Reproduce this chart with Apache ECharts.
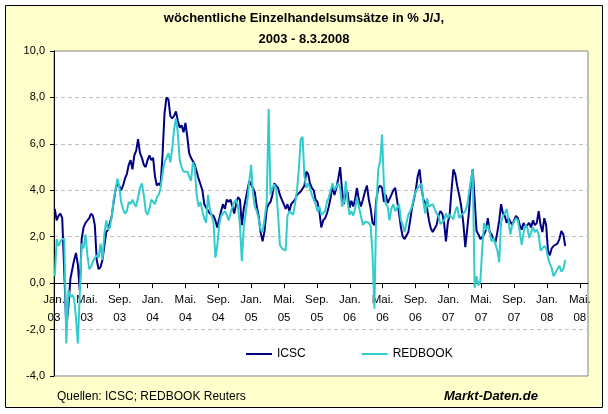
<!DOCTYPE html>
<html>
<head>
<meta charset="utf-8">
<script src="https://cdn.jsdelivr.net/npm/echarts@6/dist/echarts.min.js"></script>
<style>
  html, body { margin: 0; padding: 0; background: #fff; }
  #chart { width: 608px; height: 414px; }
</style>
</head>
<body>
<div id="chart"></div>
<script>
// weekly values, first week ends 4.1.2003, last 8.3.2008
var firstWeek = [2003, 0, 4];
var icsc = [
  3.2, 2.7, 2.9, 3.0, 2.8, 0.5, -1.9, -1.0, 0.2, 0.6,
  1.0, 1.3, 0.8, -0.3, 1.9, 2.4, 2.6, 2.7, 2.8, 3.0,
  2.9, 2.5, 1.0, 0.6, 0.7, 1.0, 1.6, 2.2, 2.3, 2.3,
  2.9, 3.5, 4.0, 4.3, 4.2, 4.0, 4.2, 4.5, 4.7, 5.1,
  5.3, 4.9, 5.5, 5.7, 6.2, 5.6, 5.4, 5.1, 5.0, 5.3,
  5.5, 5.3, 5.4, 4.6, 4.2, 4.3, 4.2, 5.5, 7.3, 8.0,
  7.9, 7.2, 7.1, 7.2, 7.4, 7.0, 6.7, 6.8, 6.5, 6.9,
  6.3, 5.6, 5.4, 5.4, 5.1, 4.8, 4.5, 4.25, 4.0, 3.4,
  3.25, 3.2, 3.0, 2.95, 2.9, 2.7, 2.4, 2.4, 3.1, 3.4,
  3.2, 3.6, 3.5, 3.6, 3.3, 3.0, 3.4, 3.7, 3.6, 2.5,
  3.2, 3.2, 4.0, 4.4, 4.4, 4.1, 3.9, 3.3, 2.9, 2.2,
  1.8, 2.3, 3.2, 3.4, 3.5, 3.8, 4.3, 4.2, 4.1, 3.8,
  3.6, 3.4, 3.2, 3.4, 3.1, 3.4, 3.45, 3.6, 3.8, 3.8,
  3.95, 4.0, 4.2, 4.8, 4.7, 4.3, 4.1, 4.0, 3.6, 3.5,
  3.1, 2.4, 2.7, 2.8, 3.0, 3.3, 3.7, 4.2, 3.8, 4.1,
  4.5, 5.0, 4.0, 3.4, 4.0, 3.9, 3.25, 3.55, 3.3, 3.6,
  4.1, 3.6, 3.3, 3.6, 3.95, 4.2, 3.6, 3.2, 2.6, 2.5,
  3.6, 4.1, 4.2, 4.1, 3.5, 3.8, 3.45, 3.4, 3.8, 4.0,
  4.1, 4.1, 3.0, 2.4, 2.0, 1.9, 1.85, 2.2, 2.7, 3.25,
  3.6, 4.0, 4.6, 4.9, 4.1, 3.6, 3.45, 3.2, 2.7, 2.35,
  2.2, 2.25, 2.5, 2.9, 3.1, 3.0, 2.6, 1.8, 2.6, 2.95,
  4.0, 4.9, 4.7, 4.2, 3.8, 3.3, 2.6, 1.55, 2.3, 3.1,
  4.3, 4.9, 3.6, 2.25, 2.1, 1.9, 1.85, 2.1, 2.3, 2.8,
  2.2, 2.1, 1.9, 1.75, 2.2, 2.7, 3.4, 3.0, 2.9, 2.6,
  2.8, 2.65, 2.5, 2.7, 2.9, 2.8, 2.5, 2.3, 2.6, 2.4,
  2.5, 2.6, 2.4, 2.7, 2.5, 2.6, 3.1, 2.5, 2.2, 2.8,
  2.5, 1.4, 1.2, 1.5, 1.6, 1.55, 1.7, 1.9, 2.25, 2.1, 1.6
];
var redbook = [
  0.3, 1.9, 1.6, 1.8, 1.9, 1.9, -2.6, -0.3, -0.6, -0.5,
  -0.7, -1.5, -2.6, -0.5, 1.7, 1.5, 2.1, 1.2, 0.6, 0.7,
  0.95, 1.0, 1.2, 1.1, 1.7, 1.0, 2.1, 2.7, 2.3, 2.4,
  2.9, 3.6, 4.0, 4.5, 4.2, 3.5, 3.2, 3.0, 3.1, 3.5,
  3.4, 3.6, 3.4, 3.3, 3.7, 4.1, 4.3, 3.8, 3.1, 2.95,
  3.2, 3.6, 3.5, 3.4, 3.7, 3.8, 4.1, 4.7, 5.2, 5.4,
  5.6, 5.2, 5.8, 6.6, 7.1, 6.5, 5.3, 5.0, 4.8, 4.8,
  4.8, 4.6, 4.4, 5.2, 5.0, 3.8, 3.3, 3.5, 3.1, 2.8,
  2.6, 3.8, 3.2, 2.9, 2.6, 1.1, 1.6, 2.5, 2.9, 2.95,
  3.1, 2.95, 2.7, 3.0, 3.3, 3.5, 3.6, 3.3, 2.5, 0.95,
  2.4, 2.4, 3.6, 4.4, 5.1, 3.8, 3.3, 3.1, 2.8, 2.3,
  2.2, 2.8, 3.5, 7.5, 3.8, 4.1, 4.25, 4.1, 3.0, 1.65,
  1.5, 1.45, 1.4, 2.9, 3.1, 3.1, 2.95, 3.4, 3.95, 4.9,
  6.2, 6.3, 4.6, 4.1, 4.3, 4.1, 3.8, 3.8, 3.4, 3.1,
  3.3, 2.95, 2.95, 3.1, 3.5, 3.7, 4.0, 4.3, 4.0, 4.0,
  4.3, 4.1, 3.3, 3.5, 4.4, 3.5, 2.95, 3.1, 2.9, 3.2,
  3.7, 3.3, 2.9, 2.5, 2.65, 2.6, 2.6, 2.45, 1.25, -1.1,
  3.3, 4.9, 5.25, 6.4, 4.2, 3.4, 3.3, 2.7, 3.2, 3.4,
  3.1, 3.1, 3.4, 2.7, 2.5, 2.2, 2.6, 2.95, 3.1, 3.3,
  3.7, 3.95, 4.1, 4.2, 4.3, 3.5, 3.0, 3.65, 3.3, 3.3,
  3.4, 3.2, 3.0, 2.9, 2.55, 2.6, 2.7, 3.0, 2.8, 2.95,
  2.95, 2.75, 3.1, 3.3, 2.8, 2.95, 3.0, 3.1, 3.35, 3.9,
  4.4, 4.9, -0.2, 0.3, -0.1, 0.1, 1.5, 2.6, 2.3, 2.5,
  2.2, 1.8, 1.95, 2.0, 1.4, 0.9, 2.6, 2.9, 3.0, 3.2,
  2.7, 2.1, 2.5, 2.65, 2.8, 2.7, 2.2, 1.65, 2.2, 2.5,
  2.4, 1.95, 2.0, 2.4, 2.2, 2.3, 2.1, 1.4, 1.4, 1.6,
  1.5, 1.1, 0.85, 0.65, 0.3, 0.35, 0.6, 0.75, 0.5, 0.6, 1.0
];
// x axis: months since Jan 2003, a tick every 4 months
var tickValues = [0, 4, 8, 12, 16, 20, 24, 28, 32, 36, 40, 44, 48, 52, 56, 60, 64];
var tickLabels = ['Jan.\n03', 'Mai.\n03', 'Sep.\n03', 'Jan.\n04', 'Mai.\n04', 'Sep.\n04',
  'Jan.\n05', 'Mai.\n05', 'Sep.\n05', 'Jan.\n06', 'Mai.\n06', 'Sep.\n06',
  'Jan.\n07', 'Mai.\n07', 'Sep.\n07', 'Jan.\n08', 'Mai.\n08'];

function monthPos(i) {
  var d = new Date(Date.UTC(firstWeek[0], firstWeek[1], firstWeek[2]) + i * 7 * 86400000);
  var y = d.getUTCFullYear(), m = d.getUTCMonth();
  var dim = new Date(Date.UTC(y, m + 1, 0)).getUTCDate();
  return (y - 2003) * 12 + m + (d.getUTCDate() - 1) / dim;
}
function toPairs(arr) {
  return arr.map(function (v, i) { return [monthPos(i), v]; });
}

var gridTop = 51, gridBottom = 38, yMin = -4, yMax = 10;
var plotH = 414 - gridTop - gridBottom;
// x axis sits on the zero line, inside the plot
var zeroOffset = -plotH * (0 - yMin) / (yMax - yMin);

var font = 'Liberation Sans, Arial, sans-serif';
var chart = echarts.init(document.getElementById('chart'));
chart.setOption({
  animation: false,
  backgroundColor: '#fff',
  textStyle: { fontFamily: font },
  title: {
    text: 'wöchentliche Einzelhandelsumsätze in % J/J,\n2003 - 8.3.2008',
    left: 'center',
    top: 3,
    textStyle: { fontSize: 13, fontWeight: 'bold', color: '#000', lineHeight: 21, fontFamily: font }
  },
  graphic: [
    {
      type: 'rect', z: -1, silent: true,
      shape: { x: 5.5, y: 5.5, width: 597, height: 402 },
      style: { fill: '#FFFFCC', stroke: '#000', lineWidth: 1 }
    },
    {
      type: 'text', left: 57, top: 391, silent: true,
      style: { text: 'Quellen: ICSC; REDBOOK Reuters', fontSize: 12, fill: '#000', fontFamily: font }
    },
    {
      type: 'text', left: 444, top: 390, silent: true,
      style: { text: 'Markt-Daten.de', fontSize: 13, fontWeight: 'bold', fontStyle: 'italic', fill: '#000', fontFamily: font }
    }
  ],
  legend: {
    left: 241,
    top: 343,
    icon: 'rect',
    itemWidth: 26,
    itemHeight: 2,
    itemGap: 56,
    textStyle: { fontSize: 12, color: '#000', fontFamily: font },
    data: ['ICSC', 'REDBOOK']
  },
  grid: {
    left: 54, right: 20, top: gridTop, bottom: gridBottom,
    show: true, backgroundColor: '#fff', borderColor: '#808080', borderWidth: 1
  },
  xAxis: {
    type: 'value',
    min: 0, max: 65, interval: 4,
    position: 'bottom',
    offset: zeroOffset,
    axisLine: { onZero: false, lineStyle: { color: '#000', width: 1 } },
    axisTick: { show: true, length: 5, customValues: tickValues, lineStyle: { color: '#000' } },
    axisLabel: {
      customValues: tickValues,
      color: '#000', fontSize: 11.5, lineHeight: 17.5, margin: 8, fontFamily: font,
      formatter: function (v) {
        var k = Math.round(v / 4);
        return (Math.abs(v - k * 4) < 1e-6 && tickLabels[k]) ? tickLabels[k] : '';
      }
    },
    splitLine: { show: false }
  },
  yAxis: {
    type: 'value',
    min: yMin, max: yMax, interval: 2,
    axisLine: { show: true, onZero: false, lineStyle: { color: '#000', width: 1 } },
    axisTick: { show: true, length: 4, lineStyle: { color: '#000' } },
    axisLabel: {
      color: '#000', fontSize: 11, margin: 9, fontFamily: font,
      formatter: function (v) { return v.toFixed(1).replace('.', ','); }
    },
    splitLine: { show: true, lineStyle: { color: '#C0C0C0', type: [4, 3], width: 1 } }
  },
  series: [
    {
      name: 'ICSC', type: 'line', data: toPairs(icsc), showSymbol: false,
      lineStyle: { color: '#000080', width: 2 }, itemStyle: { color: '#000080' }
    },
    {
      name: 'REDBOOK', type: 'line', data: toPairs(redbook), showSymbol: false,
      lineStyle: { color: '#33CCCC', width: 2 }, itemStyle: { color: '#33CCCC' }
    }
  ]
});
</script>
</body>
</html>
